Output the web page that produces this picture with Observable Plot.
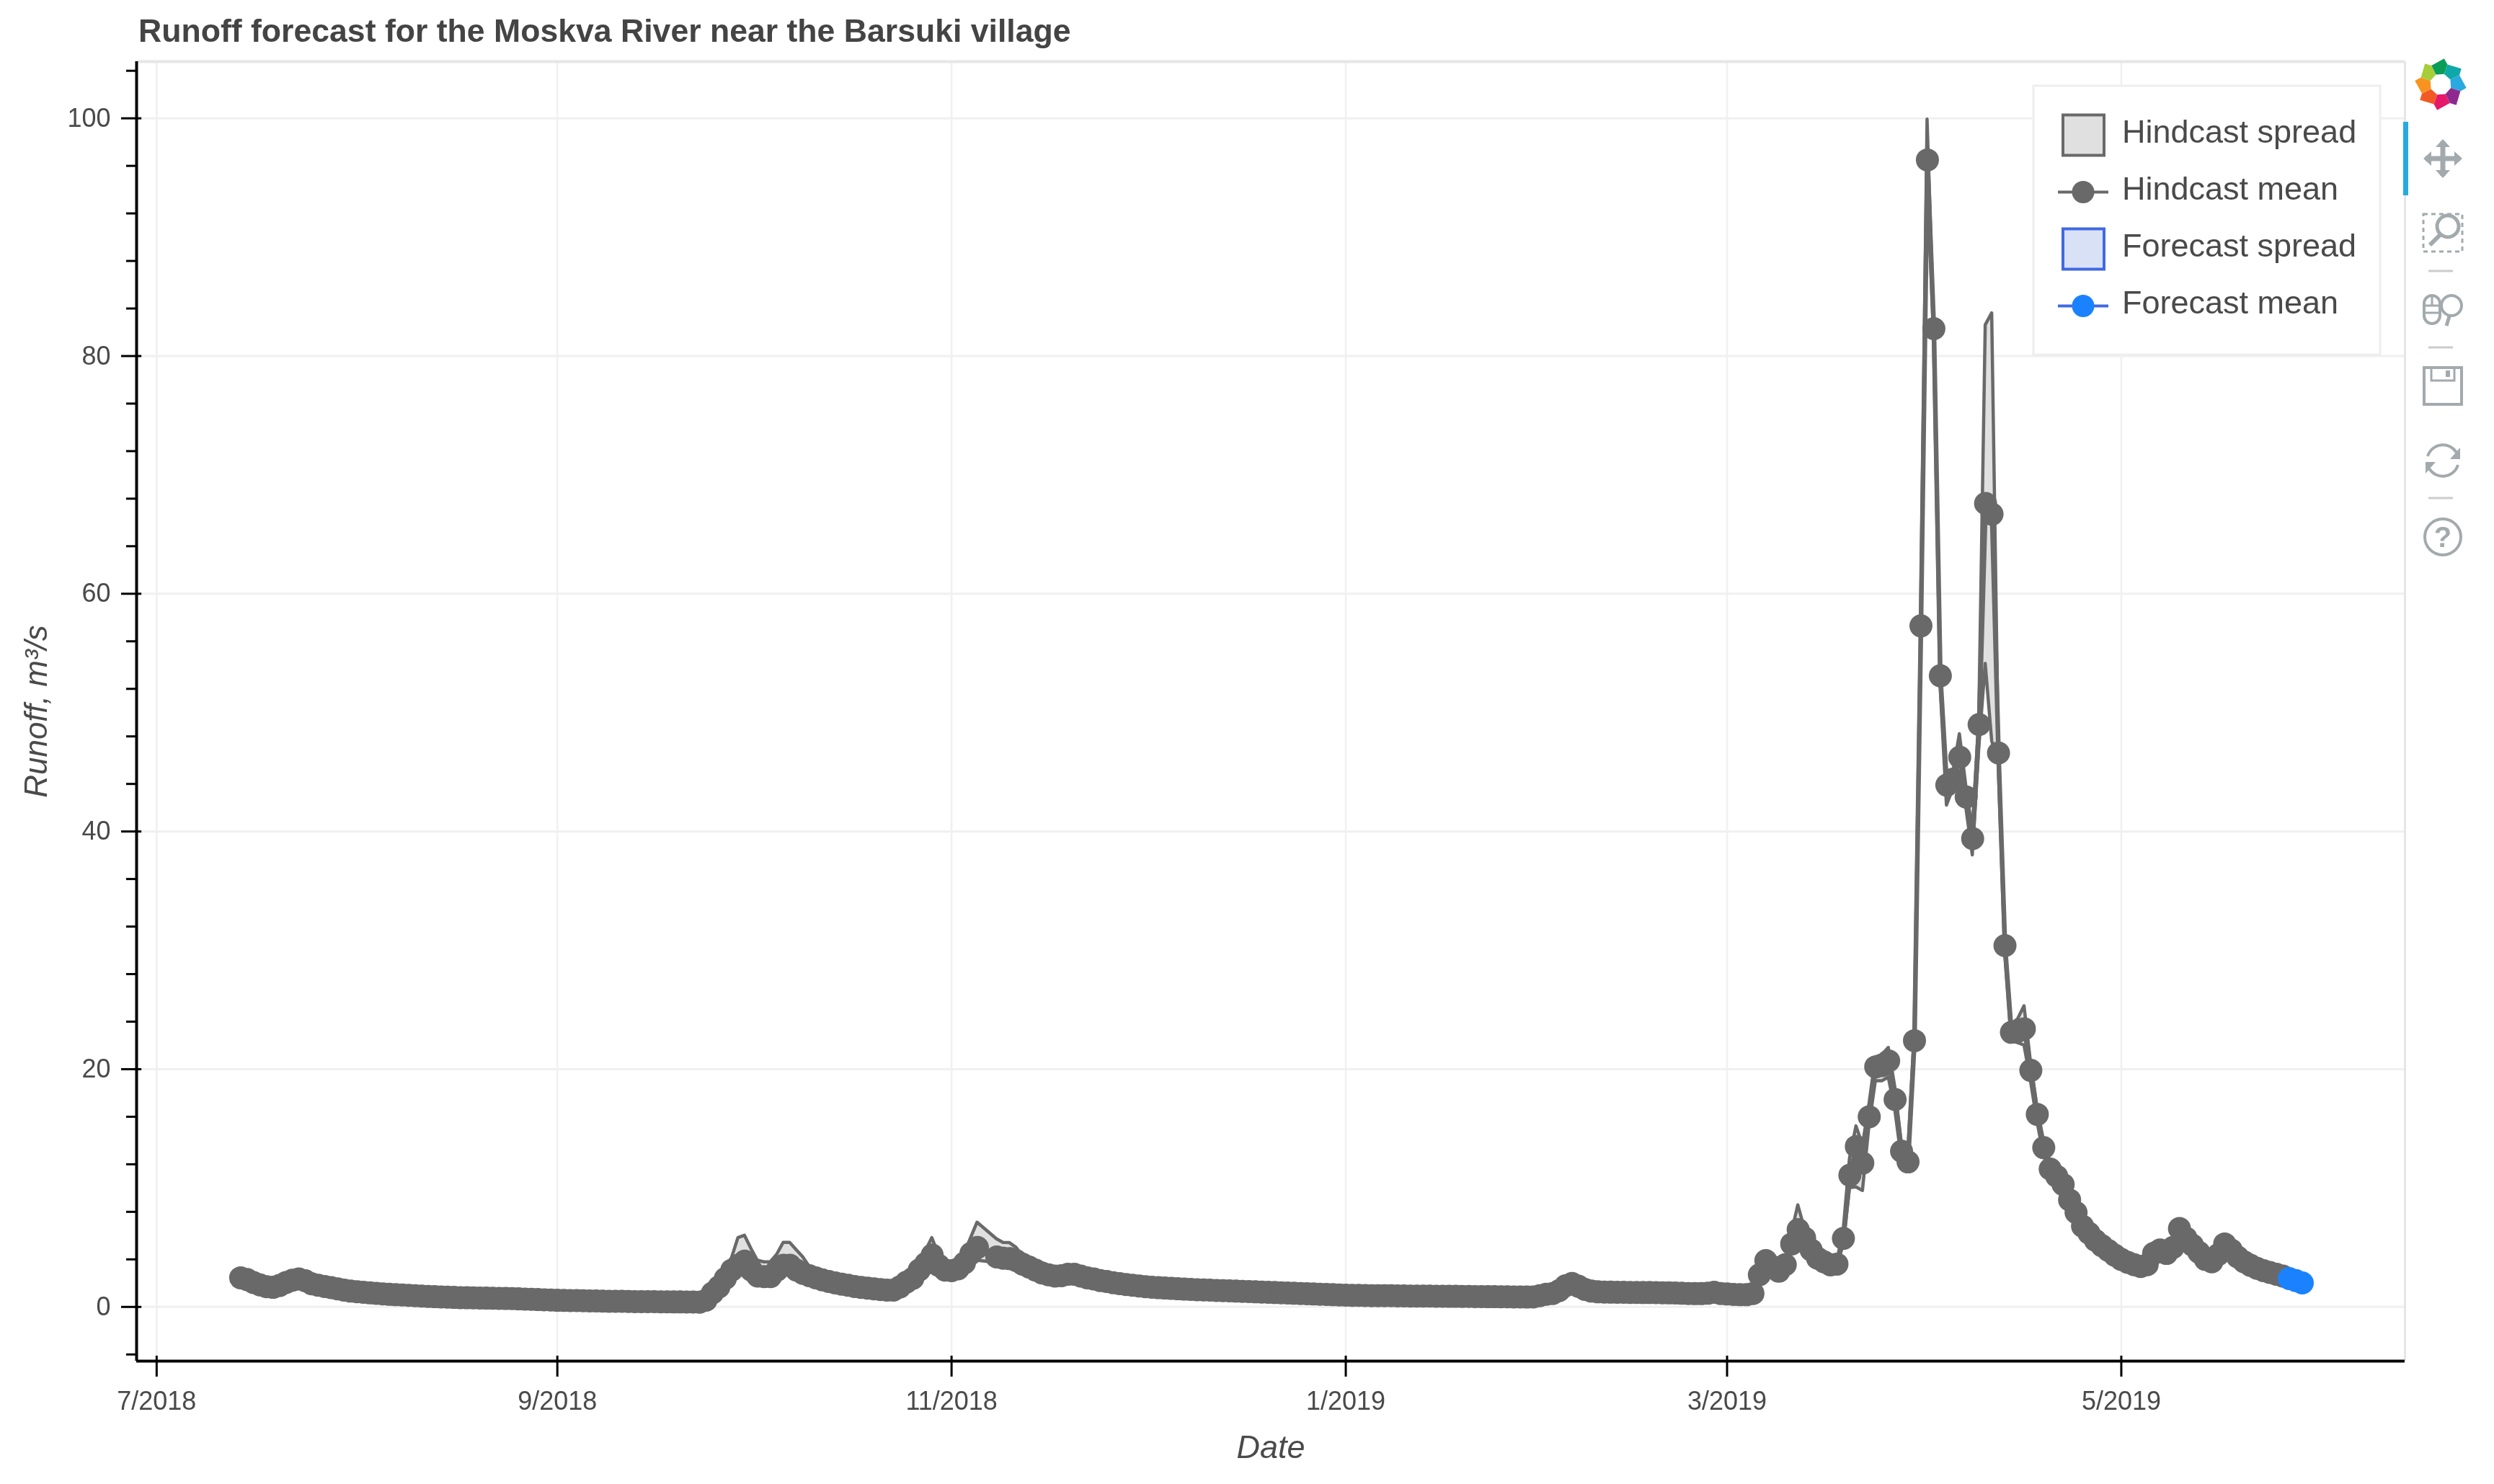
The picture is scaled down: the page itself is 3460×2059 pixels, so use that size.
<!DOCTYPE html>
<html>
<head>
<meta charset="utf-8">
<script src="https://cdn.jsdelivr.net/npm/d3@7"></script>
<script src="https://cdn.jsdelivr.net/npm/@observablehq/plot@0.6"></script>
<style>
  html, body { margin: 0; padding: 0; background: #fff; }
  #page { position: relative; width: 3460px; height: 2059px; overflow: hidden; font-family: "Liberation Sans", Arial, sans-serif; filter: blur(0.6px); }
  #title { position: absolute; left: 192px; top: 18px; font: bold 44.6px "Liberation Sans", Arial, sans-serif; color: #444; white-space: nowrap; }
  #overlay { position: absolute; left: 0; top: 0; }
</style>
</head>
<body>
<div id="page">
  <div id="chart"></div>
  <div id="title">Runoff forecast for the Moskva River near the Barsuki village</div>
</div>
<script>
// Chart values. One line per month, daily from 14 July 2018; null = no hindcast that day.
const firstDay = "2018-07-14";
const hindcastMean = [
  2.45,2.3,2.05,1.85,1.7,1.65,1.8,2.05,2.25,2.35,2.2,1.95,1.82,1.72,1.63,1.52,1.42,1.33,
  1.28,1.23,1.18,1.14,1.10,1.06,1.03,1.0,0.97,0.94,0.91,0.88,0.86,0.84,0.82,0.80,0.78,0.77,0.76,0.75,0.74,0.73,0.72,0.71,0.70,0.68,0.66,0.64,0.62,0.60,0.58,
  .56,.55,.54,.53,.52,.51,.50,.49,.48,.47,.47,.46,.45,.45,.44,.44,.43,.43,.42,.42,.41,.41,.40,.57,1.17,1.68,2.4,3.1,3.5,3.85,
  3.1,2.6,2.55,2.55,3.1,3.5,3.5,3.1,2.83,2.63,2.45,2.28,2.14,2.02,1.92,1.82,1.72,1.64,1.58,1.52,1.46,1.41,1.41,1.68,2.08,2.4,3.1,3.65,4.37,3.5,3.1,
  3.05,3.2,3.7,4.5,5,null,null,4.2,4.1,4.06,3.9,3.6,3.35,3.1,2.85,2.7,2.6,2.63,2.75,2.75,2.6,2.45,2.35,2.22,2.14,2.04,1.96,1.88,1.82,1.76,
  1.70,1.66,1.62,1.59,1.56,1.53,1.50,1.47,1.45,1.43,1.41,1.39,1.37,1.35,1.33,1.31,1.29,1.27,1.25,1.23,1.21,1.19,1.17,1.15,1.13,1.11,1.09,1.07,1.05,1.03,1.01,
  .99,.98,.97,.96,.95,.95,.94,.94,.93,.93,.92,.92,.91,.91,.90,.90,.89,.89,.88,.88,.87,.87,.86,.86,.85,.85,.84,.84,.83,.84,.95,
  1.07,1.13,1.37,1.78,1.98,1.74,1.48,1.33,1.27,1.25,1.24,1.23,1.23,1.22,1.22,1.21,1.21,1.2,1.19,1.18,1.17,1.15,1.13,1.12,1.12,1.15,1.23,1.13,
  1.09,1.05,1.03,1.03,1.13,2.7,3.9,3.4,3.0,3.55,5.3,6.5,5.8,4.8,4.1,3.8,3.54,3.6,5.76,11.08,13.5,12.1,16.0,20.2,20.3,20.7,17.45,13.1,12.2,22.4,57.3,
  96.5,82.3,53.1,43.9,44.4,46.25,42.9,39.4,49,67.6,66.7,46.6,30.4,23.1,23.2,23.4,19.9,16.2,13.4,11.6,11.0,10.3,9.0,7.95,6.8,6.2,5.6,5.15,4.75,4.35,
  4.0,3.75,3.55,3.4,3.55,4.5,4.8,4.5,5.0,6.6,5.8,5.2,4.6,4.0,3.8,4.4,5.3,4.8,4.2,3.8,3.5,3.25,3.05,2.9,2.75,2.6
];
const hindcastUpper = [
  2.55,2.4,2.15,1.95,1.8,1.75,1.9,2.15,2.35,2.45,2.3,2.05,1.92,1.82,1.72,1.6,1.5,1.4,
  1.35,1.3,1.25,1.2,1.16,1.12,1.08,1.05,1.02,.99,.96,.93,.91,.89,.87,.85,.83,.82,.81,.8,.79,.78,.77,.76,.75,.73,.71,.69,.67,.65,.63,
  .61,.6,.59,.58,.57,.56,.55,.54,.53,.52,.52,.51,.5,.5,.49,.49,.48,.48,.47,.47,.46,.46,.45,.65,1.3,1.95,2.9,4.1,5.8,6.0,
  4.9,3.9,3.76,3.76,4.4,5.4,5.4,4.8,4.2,3.4,2.9,2.55,2.35,2.2,2.05,1.95,1.85,1.75,1.68,1.62,1.56,1.5,1.5,1.8,2.3,2.8,3.6,4.7,5.8,4.4,3.7,
  3.6,4.0,4.5,5.8,7.1,null,null,5.7,5.4,5.38,5.0,4.3,3.8,3.4,3.1,2.9,2.8,2.85,3.1,3.1,2.85,2.65,2.5,2.35,2.27,2.16,2.07,1.98,1.92,1.85,
  1.78,1.74,1.7,1.67,1.64,1.61,1.58,1.55,1.53,1.51,1.49,1.47,1.45,1.43,1.41,1.39,1.37,1.35,1.33,1.31,1.29,1.27,1.25,1.23,1.21,1.19,1.17,1.15,1.13,1.11,1.09,
  1.05,1.04,1.03,1.02,1.01,1.01,1,1,.99,.99,.98,.98,.97,.97,.96,.96,.95,.95,.94,.94,.93,.93,.92,.92,.91,.91,.9,.9,.89,.9,1.02,
  1.12,1.2,1.47,1.88,2.08,1.84,1.56,1.4,1.33,1.31,1.3,1.29,1.29,1.28,1.28,1.27,1.27,1.26,1.25,1.24,1.23,1.21,1.19,1.18,1.18,1.21,1.32,1.2,
  1.15,1.1,1.08,1.08,1.2,3.0,4.3,3.7,3.3,3.9,6.2,8.55,6.6,5.2,4.4,4.0,3.7,3.8,6.3,12.5,15.2,13.6,17,21,21.2,21.8,18.5,13.8,12.8,23,58,
  99.9,83,53.8,44.6,45,48.2,43.8,40,49.5,82.6,83.6,47.8,31,23.8,24.2,25.3,20.6,16.8,14,12.1,11.5,10.7,9.4,8.3,7.1,6.5,5.85,5.4,4.95,4.55,
  4.2,3.95,3.72,3.55,3.7,4.7,5.0,4.7,5.3,7,6.1,5.4,4.8,4.2,3.95,4.6,5.5,5,4.4,3.95,3.65,3.4,3.2,3.05,2.9,2.75
];
const hindcastLower = [
  2.35,2.2,1.95,1.75,1.6,1.55,1.7,1.95,2.15,2.25,2.1,1.85,1.72,1.62,1.53,1.42,1.32,1.25,
  1.2,1.16,1.11,1.08,1.04,1.0,.98,.95,.92,.89,.86,.83,.81,.79,.77,.75,.73,.72,.71,.7,.69,.68,.67,.66,.65,.63,.61,.59,.57,.55,.53,
  .51,.5,.49,.48,.47,.46,.45,.44,.43,.42,.42,.41,.4,.4,.39,.39,.38,.38,.37,.37,.36,.36,.35,.5,1.05,1.5,2.1,2.7,3.1,3.4,
  2.7,2.3,2.25,2.25,2.8,3.1,3.1,2.75,2.55,2.4,2.25,2.1,2.0,1.9,1.8,1.7,1.62,1.55,1.48,1.42,1.36,1.32,1.32,1.55,1.9,2.2,2.7,3.2,3.8,3.1,2.8,
  2.8,2.9,3.3,3.9,3.9,null,null,3.7,3.7,3.7,3.5,3.25,3.05,2.85,2.65,2.5,2.42,2.45,2.5,2.5,2.4,2.3,2.2,2.1,2.02,1.94,1.86,1.8,1.74,1.68,
  1.62,1.58,1.54,1.51,1.48,1.45,1.42,1.39,1.37,1.35,1.33,1.31,1.29,1.27,1.25,1.23,1.21,1.19,1.17,1.15,1.13,1.11,1.09,1.07,1.05,1.03,1.01,.99,.97,.95,.93,
  .93,.92,.91,.9,.89,.89,.88,.88,.87,.87,.86,.86,.85,.85,.84,.84,.83,.83,.82,.82,.81,.81,.8,.8,.79,.79,.78,.78,.77,.78,.88,
  1.0,1.06,1.28,1.68,1.88,1.65,1.4,1.26,1.2,1.19,1.18,1.17,1.17,1.16,1.16,1.15,1.15,1.14,1.13,1.12,1.11,1.09,1.07,1.06,1.06,1.09,1.16,1.07,
  1.04,1.0,.98,.98,1.05,2.4,3.6,3.1,2.7,3.2,4.6,5.8,5.2,4.5,3.85,3.6,3.4,3.4,5.2,10,10.07,9.76,15.2,19,19,19.3,16.6,12.5,11.8,21.8,56.5,
  95,81.5,52.4,42.2,43.6,45,42,38,47,54.1,47.6,45.8,29.8,22.4,22.2,22,19,15.6,12.8,11.1,10.5,9.9,8.6,7.6,6.5,5.9,5.35,4.9,4.55,4.15,
  3.85,3.6,3.4,3.25,3.4,4.3,4.6,4.3,4.8,6.3,5.5,5,4.4,3.85,3.65,4.2,5.1,4.6,4,3.65,3.35,3.1,2.9,2.75,2.6,2.45
];
const forecastDates = ["2019-05-27","2019-05-28","2019-05-29"];
const forecastMean = [2.38,2.22,2.02];
const forecastUpper = [2.46,2.32,2.14];
const forecastLower = [2.3,2.12,1.9];

const xTickDates = ["2018-07-01","2018-09-01","2018-11-01","2019-01-01","2019-03-01","2019-05-01"];
const xTickLabels = ["7/2018","9/2018","11/2018","1/2019","3/2019","5/2019"];
const yMajorTicks = [0,20,40,60,80,100];
const yMinorTicks = [-4,4,8,12,16,24,28,32,36,44,48,52,56,64,68,72,76,84,88,92,96,104];
const legendLabels = ["Hindcast spread","Hindcast mean","Forecast spread","Forecast mean"];

const titleX = "Date";
const titleY = "Runoff, m\u00b3/s";

const colors = {grey:"#696969", greyFill:"#e0e0e0", blue:"#1b82ff", blueLine:"#4169e1", blueFill:"#d9e1f7",
                grid:"#f0f0f0", frame:"#e6e6e6", text:"#4a4a4a", tool:"#a3aaad"};

const parse = d3.utcParse("%Y-%m-%d");
const start = parse(firstDay);
const hindcast = hindcastMean.map((m, i) => ({date: d3.utcDay.offset(start, i), mean: m, upper: hindcastUpper[i], lower: hindcastLower[i]}))
  .filter(d => d.mean != null);
const forecast = forecastDates.map((d, i) => ({date: parse(d), mean: forecastMean[i], upper: forecastUpper[i], lower: forecastLower[i]}));

const xMin = new Date(Date.UTC(2018,5,27,21,30));
const xMax = new Date(Date.UTC(2019,5,13,21,30));
const yMin = -4.56, yMax = 104.77;
const xTicks = xTickDates.map(parse);
const label = new Map(xTicks.map((d,i) => [+d, xTickLabels[i]]));
const inwardY = yMin + 0.43;                       // inner stub of the x ticks
const inwardX = new Date(+xMin + 0.8 * 864e5);     // inner stub of the y ticks

const plot = Plot.plot({
  width: 3460, height: 2059,
  marginLeft: 189, marginRight: 124, marginTop: 85, marginBottom: 171,
  style: {background: "#fff", fontFamily: '"Liberation Sans", Arial, sans-serif'},
  x: {type: "utc", domain: [xMin, xMax]},
  y: {domain: [yMin, yMax]},
  marks: [
    Plot.gridX(xTicks, {stroke: colors.grid, strokeOpacity: 1, strokeWidth: 2.5}),
    Plot.gridY(yMajorTicks, {stroke: colors.grid, strokeOpacity: 1, strokeWidth: 3}),
    Plot.ruleY([yMax], {stroke: colors.frame, strokeWidth: 4}),
    Plot.ruleX([xMax], {stroke: colors.frame, strokeWidth: 3}),
    Plot.areaY(hindcast, {x: "date", y1: "lower", y2: "upper", fill: colors.greyFill, stroke: colors.grey, strokeWidth: 4.5}),
    Plot.line(hindcast, {x: "date", y: "mean", stroke: colors.grey, strokeWidth: 6.5}),
    Plot.dot(hindcast, {x: "date", y: "mean", r: 16, fill: colors.grey}),
    Plot.areaY(forecast, {x: "date", y1: "lower", y2: "upper", fill: colors.blueFill, stroke: colors.blueLine, strokeWidth: 3}),
    Plot.line(forecast, {x: "date", y: "mean", stroke: colors.blueLine, strokeWidth: 5}),
    Plot.dot(forecast, {x: "date", y: "mean", r: 16, fill: colors.blue}),
    Plot.ruleY([yMin], {stroke: "#000", strokeWidth: 4}),
    Plot.ruleX([xMin], {stroke: "#000", strokeWidth: 4}),
    Plot.ruleX(xTicks, {y1: yMin, y2: inwardY, stroke: "#000", strokeWidth: 3}),
    Plot.ruleY(yMajorTicks, {x1: xMin, x2: inwardX, stroke: "#000", strokeWidth: 3}),
    Plot.axisX({ticks: xTicks, tickFormat: d => label.get(+d), tickSize: 22, tickPadding: 20, strokeWidth: 3, stroke: "#000",
                label: null, fontSize: 36, fill: colors.text}),
    Plot.axisY({ticks: yMajorTicks, tickSize: 21, tickPadding: 15, strokeWidth: 3, stroke: "#000",
                label: null, fontSize: 36, fill: colors.text}),
    Plot.axisY({ticks: yMinorTicks, tickSize: 14, tickFormat: () => "", strokeWidth: 3, stroke: "#000", label: null}),
    Plot.text([titleX], {frameAnchor: "bottom", dy: 134, fontSize: 45, fontStyle: "italic", fill: colors.text}),
    Plot.text([titleY], {frameAnchor: "left", textAnchor: "middle", dx: -139, rotate: -90, fontSize: 44, fontStyle: "italic", fill: colors.text})
  ]
});
document.getElementById("chart").appendChild(plot);

// Legend and toolbar, laid over the plot area
const svg = d3.select("#page").append("svg").attr("id", "overlay")
  .attr("width", 3460).attr("height", 2059).attr("viewBox", "0 0 3460 2059");

const lg = svg.append("g");
lg.append("rect").attr("x", 2821).attr("y", 119).attr("width", 481).attr("height", 373)
  .attr("fill", "#fff").attr("stroke", "#eee").attr("stroke-width", 3);
legendLabels.forEach((t, i) => {
  const cy = 187.5 + i * 79;
  const blue = i >= 2;
  if (i % 2 === 0) {
    lg.append("rect").attr("x", 2862).attr("y", cy - 28).attr("width", 57).attr("height", 56)
      .attr("fill", blue ? colors.blueFill : colors.greyFill)
      .attr("stroke", blue ? colors.blueLine : colors.grey).attr("stroke-width", 4);
  } else {
    lg.append("line").attr("x1", 2855).attr("x2", 2925).attr("y1", cy).attr("y2", cy)
      .attr("stroke", blue ? colors.blueLine : colors.grey).attr("stroke-width", 4);
    lg.append("circle").attr("cx", 2890).attr("cy", cy).attr("r", 15.5)
      .attr("fill", blue ? colors.blue : colors.grey);
  }
  lg.append("text").attr("x", 2944).attr("y", cy - 1).attr("dominant-baseline", "middle")
    .attr("font-size", 45).attr("fill", colors.text).attr("font-family", '"Liberation Sans", Arial, sans-serif').text(t);
});

// Toolbar
const tb = svg.append("g").attr("id", "toolbar");
const petals = ["#0a9d58","#0fa8a8","#2aa8e0","#8e2a8e","#e6186a","#f15a24","#f7931e","#a6ce39"];
petals.forEach((c, i) => {
  const a0 = (i - 0.58) * Math.PI / 4 - Math.PI / 2, a1 = (i + 0.42) * Math.PI / 4 - Math.PI / 2, am = (a0 + a1) / 2 + 0.2;
  const pt = (r, a) => `${(r * Math.cos(a)).toFixed(1)},${(r * Math.sin(a)).toFixed(1)}`;
  tb.append("path").attr("transform", "translate(3386,117)").attr("fill", c)
    .attr("d", `M${pt(15, a0)}L${pt(29, a0)}L${pt(36, am)}L${pt(29, a1)}L${pt(15, a1)}Z`);
});
tb.append("rect").attr("x", 3334).attr("y", 169).attr("width", 7).attr("height", 102).attr("fill", "#26aae1");
[376, 482, 691].forEach(y => tb.append("line").attr("x1", 3369).attr("x2", 3403).attr("y1", y).attr("y2", y)
  .attr("stroke", "#ccc").attr("stroke-width", 3));

const ic = tb.append("g").attr("fill", "none").attr("stroke", colors.tool).attr("stroke-width", 4);
// pan
const pan = ic.append("g").attr("transform", "translate(3389,220)");
pan.append("path").attr("d", "M-24,0H24M0,-24V24").attr("stroke-width", 7);
pan.append("path").attr("fill", colors.tool).attr("stroke", "none")
  .attr("d", "M-27,0L-16,-10V10ZM27,0L16,-10V10ZM0,-27L-10,-16H10ZM0,27L-10,16H10Z");
// box zoom
ic.append("rect").attr("x", 3362).attr("y", 297).attr("width", 54).attr("height", 52).attr("stroke-dasharray", "6 5").attr("stroke-width", 3);
ic.append("circle").attr("cx", 3396).attr("cy", 314).attr("r", 15).attr("stroke-width", 5).attr("fill", "#fff");
ic.append("line").attr("x1", 3385).attr("y1", 326).attr("x2", 3371).attr("y2", 340).attr("stroke-width", 6);
// wheel zoom
ic.append("rect").attr("x", 3363).attr("y", 410).attr("width", 22).attr("height", 39).attr("rx", 11);
ic.append("path").attr("d", "M3363,424H3385M3363,434H3385M3374,410V424").attr("stroke-width", 3);
ic.append("circle").attr("cx", 3401).attr("cy", 424).attr("r", 14);
ic.append("line").attr("x1", 3398).attr("y1", 439).attr("x2", 3394).attr("y2", 452).attr("stroke-width", 5);
// save
ic.append("rect").attr("x", 3363).attr("y", 510).attr("width", 52).attr("height", 51);
ic.append("path").attr("d", "M3373,510V528H3405V510").attr("stroke-width", 3);
ic.append("rect").attr("x", 3393).attr("y", 514).attr("width", 6).attr("height", 9).attr("fill", colors.tool).attr("stroke", "none");
// reset
const rs = ic.append("g").attr("transform", "translate(3389,639)");
rs.append("path").attr("d", "M-21,-6A22,22 0 0 1 19,-11M21,6A22,22 0 0 1 -19,11");
rs.append("path").attr("fill", colors.tool).attr("stroke", "none").attr("d", "M24,-18V-2H10ZM-24,18V2H-10Z");
// help
ic.append("circle").attr("cx", 3389).attr("cy", 745).attr("r", 25);
tb.append("text").attr("x", 3389).attr("y", 759).attr("text-anchor", "middle").attr("font-size", 40)
  .attr("font-weight", "bold").attr("fill", colors.tool).attr("font-family", '"Liberation Sans", Arial, sans-serif').text("?");
</script>
</body>
</html>
